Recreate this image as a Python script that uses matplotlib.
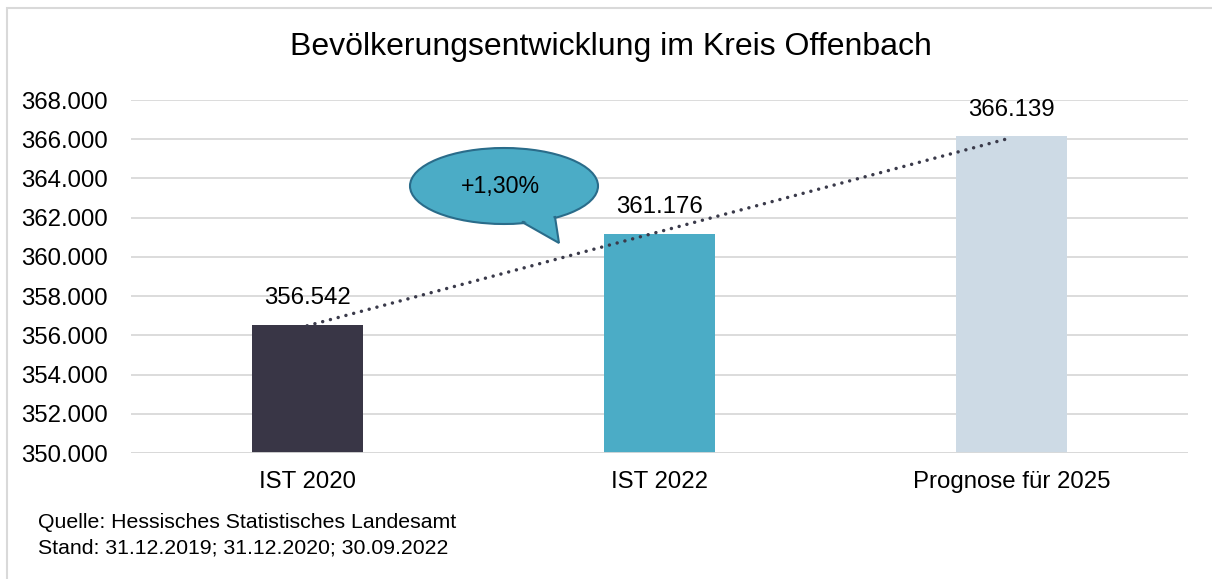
import matplotlib
matplotlib.use("Agg")
import matplotlib.pyplot as plt
from matplotlib.patches import Ellipse, Polygon, Rectangle
import numpy as np

categories = ["IST 2020", "IST 2022", "Prognose für 2025"]
values = [356542, 361176, 366139]
value_labels = ["356.542", "361.176", "366.139"]
bar_colors = ["#393646", "#4BACC6", "#CDDAE5"]
yticks = list(range(350000, 368001, 2000))
ytick_labels = [f"{v:,}".replace(",", ".") for v in yticks]
title = "Bevölkerungsentwicklung im Kreis Offenbach"
callout_text = "+1,30%"
source_lines = ["Quelle: Hessisches Statistisches Landesamt",
                "Stand: 31.12.2019; 31.12.2020; 30.09.2022"]

plt.rcParams['font.family'] = ['Liberation Sans', 'DejaVu Sans']

W, H = 1212, 579
fig = plt.figure(figsize=(W/100, H/100), dpi=100)
ax = fig.add_axes([131/W, 1-453/H, (1188-131)/W, (453-100)/H])

x = np.arange(len(categories))
ax.bar(x, values, width=0.315, color=bar_colors, zorder=3, bottom=0)
ax.set_ylim(350000, 368000)
ax.set_xlim(-0.5, 2.5)
ax.set_yticks(yticks)
ax.set_yticklabels(ytick_labels, fontsize=17.3)
ax.set_xticks(x)
ax.set_xticklabels(categories, fontsize=17.3)
ax.tick_params(axis='both', length=0)
ax.tick_params(axis='x', pad=13)
ax.tick_params(axis='y', pad=16.5)
ax.grid(axis='y', color='#D9D9D9', linewidth=1.3, zorder=0)
for s in ax.spines.values():
    s.set_visible(False)
ax.axhline(350000, color='#D9D9D9', linewidth=1.3, zorder=4)

for xi, v, lab in zip(x, values, value_labels):
    ax.text(xi, v + 1350, lab, ha='center', va='center', fontsize=17.3, color='#000000', zorder=5)

# linear trendline
coef = np.polyfit(x, values, 1)
ax.plot(x[[0, -1]], np.polyval(coef, x[[0, -1]]), linestyle=(0, (0.01, 2.3)),
        color='#3A3A4A', linewidth=2.5, zorder=4, dash_capstyle='round')

# callout bubble (figure pixel coords)
def fx(px): return px / W
def fy(py): return 1 - py / H
ell = Ellipse((fx(504), fy(186)), 188/W, 76/H, transform=fig.transFigure,
              facecolor='#4BACC6', edgecolor='#2A6C8A', linewidth=1.5, zorder=6)
fig.add_artist(ell)
tail = Polygon([(fx(522), fy(222)), (fx(559), fy(243)), (fx(555), fy(217))],
               closed=True, transform=fig.transFigure, facecolor='#4BACC6',
               edgecolor='#2A6C8A', linewidth=1.5, zorder=6)
fig.add_artist(tail)
tail_fill = Polygon([(fx(519), fy(218)), (fx(556), fy(239)), (fx(553), fy(213))],
                    closed=True, transform=fig.transFigure, facecolor='#4BACC6',
                    edgecolor='none', zorder=7)
fig.add_artist(tail_fill)
fig.text(fx(500), fy(186), callout_text, ha='center', va='center', fontsize=16.7, zorder=8)

fig.text(fx(611), fy(47), title, ha='center', va='center', fontsize=23)
fig.text(fx(38), fy(522), source_lines[0], ha='left', va='center', fontsize=15.3)
fig.text(fx(38), fy(548), source_lines[1], ha='left', va='center', fontsize=15.3)

# outer border (top and left visible)
fig.add_artist(Rectangle((fx(7), fy(590)), (1230-7)/W, (590-8)/H, transform=fig.transFigure,
                         fill=False, edgecolor='#D9D9D9', linewidth=1.5))

fig.savefig("out.png", dpi=100)
